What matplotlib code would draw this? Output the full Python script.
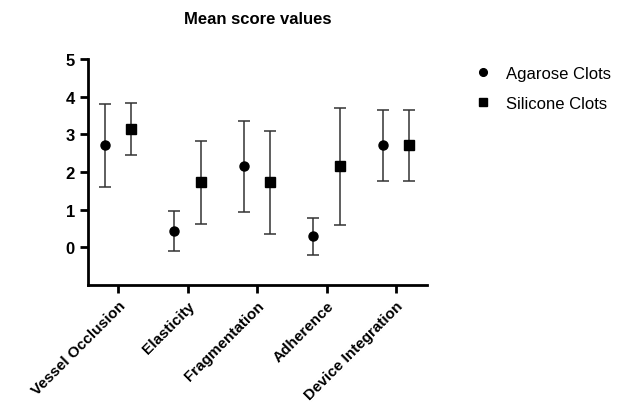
import numpy as np
import matplotlib.pyplot as plt

# ------------------------------------------------------
# Data
# ------------------------------------------------------

categories = ["Vessel Occlusion", "Elasticity", "Fragmentation",
              "Adherence", "Device Integration"]

agarose_mean = [2.71, 0.43, 2.15, 0.29, 2.71]
agarose_sd = [1.10, 0.53, 1.21, 0.49, 0.95]

silicone_mean = [3.14, 1.73, 1.73, 2.15, 2.71]
silicone_sd = [0.69, 1.10, 1.37, 1.56, 0.95]

plt.rcParams["font.family"] = ["Liberation Sans", "DejaVu Sans"]

# ------------------------------------------------------
# Figure
# ------------------------------------------------------

fig = plt.figure(figsize=(6.21, 4.14), dpi=100)
ax = fig.add_axes([0.142, 0.309, 0.546, 0.546])

x = np.arange(len(categories))
offset = 0.19

ax.errorbar(x - offset, agarose_mean, yerr=agarose_sd, fmt="o",
            color="black", ecolor="#333333", elinewidth=1.1,
            capsize=4, capthick=1.1, markersize=6.5, label="Agarose Clots")

ax.errorbar(x + offset, silicone_mean, yerr=silicone_sd, fmt="s",
            color="black", ecolor="#333333", elinewidth=1.1,
            capsize=4, capthick=1.1, markersize=6.5, label="Silicone Clots")

# ------------------------------------------------------
# Axes styling
# ------------------------------------------------------

ax.set_xlim(-0.43, 4.45)
ax.set_ylim(-1, 5)
ax.set_yticks([0, 1, 2, 3, 4, 5])
ax.set_xticks(x)
ax.set_xticklabels(categories, rotation=45, ha="right",
                   rotation_mode="anchor", fontweight="bold", fontsize=11)

for label in ax.get_yticklabels():
    label.set_fontweight("bold")
    label.set_fontsize(12)

for side in ["top", "right"]:
    ax.spines[side].set_visible(False)
for side in ["left", "bottom"]:
    ax.spines[side].set_linewidth(2)

ax.tick_params(axis="both", width=2, length=6, direction="out")

ax.set_title("Mean score values", fontweight="bold", fontsize=12, pad=26)

# ------------------------------------------------------
# Legend
# ------------------------------------------------------

handles, labels = ax.get_legend_handles_labels()
handles = [h[0] for h in handles]
fig.legend(handles, labels, loc="upper left", bbox_to_anchor=(0.74, 0.875),
           frameon=False, fontsize=12, handletextpad=0.9, labelspacing=0.9,
           handlelength=1.0, markerscale=0.85)

fig.savefig("out.png", dpi=100)
